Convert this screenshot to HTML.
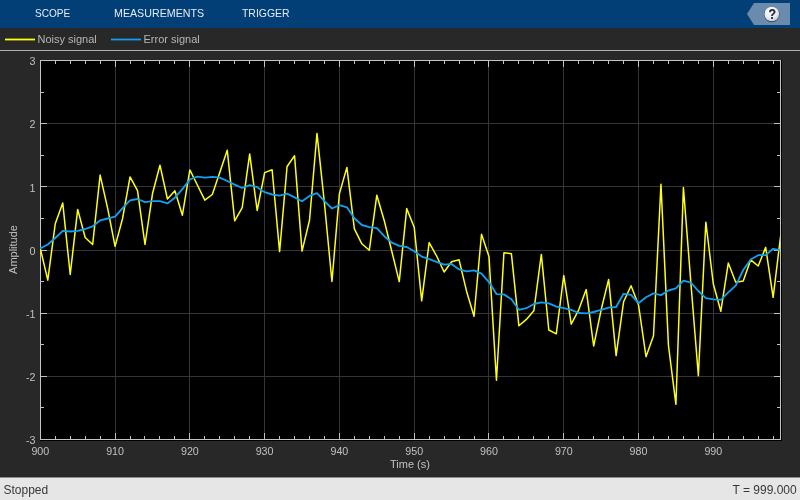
<!DOCTYPE html>
<html><head><meta charset="utf-8"><title>Time Scope</title>
<style>
*{margin:0;padding:0;box-sizing:border-box}
html,body{width:800px;height:500px;overflow:hidden;background:#282828;font-family:"Liberation Sans",Arial,sans-serif}
body>*{will-change:transform}
#bar{position:absolute;left:0;top:0;width:800px;height:28px;background:#023f76}
#bar span{position:absolute;top:7px;font-size:11px;line-height:12px;color:#e6ecf2;transform-origin:0 0}
#help{position:absolute;left:747px;top:3px;width:43px;height:22px}
#legend{position:absolute;left:0;top:28px;width:800px;height:23px;border-bottom:1px solid #afafaf}
#legend i{position:absolute;top:10px;width:30px;height:2px}
#legend span{position:absolute;top:5px;font-size:11px;line-height:12px;color:#b6b6b6}
#plot{position:absolute;left:0;top:0}
#status{position:absolute;left:0;top:477px;width:800px;height:23px;border-top:1px solid #8c8c8c;background:#e6e6e6;color:#383838;font-size:12px}
#status span{position:absolute;top:5px;line-height:14px}
</style></head><body>
<div id="bar">
<span style="left:35.3px;transform:scaleX(0.915)">SCOPE</span>
<span style="left:114.3px;transform:scaleX(0.97)">MEASUREMENTS</span>
<span style="left:241.6px;transform:scaleX(0.948)">TRIGGER</span>
<svg id="help" width="43" height="22" viewBox="747 3 43 22">
<defs><radialGradient id="hg" cx="0.4" cy="0.3" r="0.8"><stop offset="0" stop-color="#ffffff"/><stop offset="0.6" stop-color="#e8eaee"/><stop offset="1" stop-color="#b8bcc4"/></radialGradient></defs>
<polygon points="747,14 754,3 790,3 790,25 754,25" fill="#6a8bad"/>
<circle cx="771.8" cy="14.4" r="7.75" fill="#2c3e55" opacity="0.85"/>
<circle cx="771.8" cy="14" r="7.35" fill="url(#hg)"/>
<text transform="translate(772.2 18.6) scale(0.88 1)" text-anchor="middle" font-family="Liberation Sans, Arial, sans-serif" font-weight="bold" font-size="14" fill="#1c2940" stroke="#1c2940" stroke-width="0.25">?</text>
</svg>
</div>
<div id="legend">
<svg style="position:absolute;left:0;top:0" width="200" height="22"><line x1="5" y1="11.5" x2="35" y2="11.5" stroke="#ffff11" stroke-width="1.8"/><line x1="111" y1="11.5" x2="141" y2="11.5" stroke="#139ef0" stroke-width="1.8"/></svg><span style="left:37.5px">Noisy signal</span>
<span style="left:143.5px">Error signal</span>
</div>
<svg id="plot" width="800" height="500" viewBox="0 0 800 500">
<rect x="40" y="60" width="742" height="381" fill="#000000"/>
<line x1="115.5" y1="61" x2="115.5" y2="439" stroke="#353535" stroke-width="1"/>
<line x1="189.5" y1="61" x2="189.5" y2="439" stroke="#353535" stroke-width="1"/>
<line x1="264.5" y1="61" x2="264.5" y2="439" stroke="#353535" stroke-width="1"/>
<line x1="339.5" y1="61" x2="339.5" y2="439" stroke="#353535" stroke-width="1"/>
<line x1="414.5" y1="61" x2="414.5" y2="439" stroke="#353535" stroke-width="1"/>
<line x1="488.5" y1="61" x2="488.5" y2="439" stroke="#353535" stroke-width="1"/>
<line x1="563.5" y1="61" x2="563.5" y2="439" stroke="#353535" stroke-width="1"/>
<line x1="638.5" y1="61" x2="638.5" y2="439" stroke="#353535" stroke-width="1"/>
<line x1="713.5" y1="61" x2="713.5" y2="439" stroke="#353535" stroke-width="1"/>
<line x1="41" y1="376.5" x2="780" y2="376.5" stroke="#353535" stroke-width="1"/>
<line x1="41" y1="313.5" x2="780" y2="313.5" stroke="#353535" stroke-width="1"/>
<line x1="41" y1="250.5" x2="780" y2="250.5" stroke="#353535" stroke-width="1"/>
<line x1="41" y1="186.5" x2="780" y2="186.5" stroke="#353535" stroke-width="1"/>
<line x1="41" y1="123.5" x2="780" y2="123.5" stroke="#353535" stroke-width="1"/>
<path d="M55.5 439V436M55.5 61V64M70.5 439V436M70.5 61V64M85.5 439V436M85.5 61V64M100.5 439V436M100.5 61V64M115.5 439V433M115.5 61V67M130.5 439V436M130.5 61V64M144.5 439V436M144.5 61V64M159.5 439V436M159.5 61V64M174.5 439V436M174.5 61V64M189.5 439V433M189.5 61V67M204.5 439V436M204.5 61V64M219.5 439V436M219.5 61V64M234.5 439V436M234.5 61V64M249.5 439V436M249.5 61V64M264.5 439V433M264.5 61V67M279.5 439V436M279.5 61V64M294.5 439V436M294.5 61V64M309.5 439V436M309.5 61V64M324.5 439V436M324.5 61V64M339.5 439V433M339.5 61V67M354.5 439V436M354.5 61V64M369.5 439V436M369.5 61V64M384.5 439V436M384.5 61V64M399.5 439V436M399.5 61V64M414.5 439V433M414.5 61V67M429.5 439V436M429.5 61V64M444.5 439V436M444.5 61V64M459.5 439V436M459.5 61V64M474.5 439V436M474.5 61V64M488.5 439V433M488.5 61V67M503.5 439V436M503.5 61V64M518.5 439V436M518.5 61V64M533.5 439V436M533.5 61V64M548.5 439V436M548.5 61V64M563.5 439V433M563.5 61V67M578.5 439V436M578.5 61V64M593.5 439V436M593.5 61V64M608.5 439V436M608.5 61V64M623.5 439V436M623.5 61V64M638.5 439V433M638.5 61V67M653.5 439V436M653.5 61V64M668.5 439V436M668.5 61V64M683.5 439V436M683.5 61V64M698.5 439V436M698.5 61V64M713.5 439V433M713.5 61V67M728.5 439V436M728.5 61V64M743.5 439V436M743.5 61V64M758.5 439V436M758.5 61V64M773.5 439V436M773.5 61V64M41 407.5H44M780 407.5H777M41 376.5H47M780 376.5H774M41 344.5H44M780 344.5H777M41 313.5H47M780 313.5H774M41 281.5H44M780 281.5H777M41 250.5H47M780 250.5H774M41 218.5H44M780 218.5H777M41 186.5H47M780 186.5H774M41 155.5H44M780 155.5H777M41 123.5H47M780 123.5H774M41 92.5H44M780 92.5H777" stroke="#c0c0c0" stroke-width="1" fill="none"/>
<rect x="40.5" y="60.5" width="740" height="379" fill="none" stroke="#c4c4c4" stroke-width="1"/>
<clipPath id="c"><rect x="40" y="60" width="740" height="380"/></clipPath>
<g clip-path="url(#c)" fill="none" stroke-linejoin="round" stroke-linecap="round">
<polyline points="40.30,248.40 47.78,280.20 55.26,223.70 62.73,202.90 70.21,274.50 77.69,209.40 85.17,237.50 92.65,244.50 100.12,175.10 107.60,208.10 115.08,246.40 122.56,218.50 130.04,176.90 137.51,190.70 144.99,244.50 152.47,193.80 159.95,165.20 167.43,199.00 174.90,190.70 182.38,215.20 189.86,169.90 197.34,185.00 204.82,200.10 212.29,194.50 219.77,172.60 227.25,150.20 234.73,220.80 242.21,207.70 249.68,153.90 257.16,210.50 264.64,172.60 272.12,169.80 279.60,251.60 287.07,166.50 294.55,155.80 302.03,251.10 309.51,220.30 316.99,133.40 324.46,203.50 331.94,281.50 339.42,193.60 346.90,167.40 354.38,228.80 361.85,243.80 369.33,250.20 376.81,195.20 384.29,220.80 391.77,251.20 399.24,281.60 406.72,208.60 414.20,227.20 421.68,300.80 429.16,242.60 436.63,256.00 444.11,272.00 451.59,261.80 459.07,259.80 466.55,291.20 474.02,316.20 481.50,234.20 488.98,256.50 496.46,380.20 503.94,252.80 511.41,253.80 518.89,325.80 526.37,319.40 533.85,310.80 541.33,254.40 548.80,330.00 556.28,333.80 563.76,275.60 571.24,324.20 578.72,309.80 586.19,289.60 593.67,346.00 601.15,309.80 608.63,279.40 616.11,355.60 623.58,301.80 631.06,285.80 638.54,305.00 646.02,356.70 653.50,335.70 660.97,184.20 668.45,345.50 675.93,404.30 683.41,187.60 690.89,283.00 698.36,375.70 705.84,222.20 713.32,284.00 720.80,311.30 728.28,263.10 735.75,282.30 743.23,281.00 750.71,259.80 758.19,266.00 765.67,247.40 773.14,297.30 780.62,236.00" stroke="#ffff11" stroke-width="1.5"/>
<polyline points="40.30,248.40 47.78,244.50 55.26,238.00 62.73,230.80 70.21,231.50 77.69,230.80 85.17,229.00 92.65,226.30 100.12,220.40 107.60,218.50 115.08,216.70 122.56,208.10 130.04,200.30 137.51,199.00 144.99,202.10 152.47,201.10 159.95,201.10 167.43,203.40 174.90,197.70 182.38,189.10 189.86,179.50 197.34,176.60 204.82,177.70 212.29,176.80 219.77,177.70 227.25,181.00 234.73,184.70 242.21,188.00 249.68,185.20 257.16,187.20 264.64,192.20 272.12,194.50 279.60,195.60 287.07,193.60 294.55,197.30 302.03,201.20 309.51,195.90 316.99,193.10 324.46,201.20 331.94,208.50 339.42,205.20 346.90,207.30 354.38,218.20 361.85,225.00 369.33,227.20 376.81,228.20 384.29,236.20 391.77,242.60 399.24,245.80 406.72,247.00 414.20,251.20 421.68,256.60 429.16,259.20 436.63,261.80 444.11,264.60 451.59,264.00 459.07,269.40 466.55,271.40 474.02,270.40 481.50,273.60 488.98,282.10 496.46,294.10 503.94,294.40 511.41,299.20 518.89,309.80 526.37,308.20 533.85,304.00 541.33,302.40 548.80,303.40 556.28,306.60 563.76,308.20 571.24,309.80 578.72,313.00 586.19,313.30 593.67,312.00 601.15,309.80 608.63,307.60 616.11,307.00 623.58,293.80 631.06,294.80 638.54,303.20 646.02,297.20 653.50,293.40 660.97,295.10 668.45,290.50 675.93,288.40 683.41,280.60 690.89,282.60 698.36,291.00 705.84,298.10 713.32,299.30 720.80,299.80 728.28,292.40 735.75,285.60 743.23,270.00 750.71,259.50 758.19,255.20 765.67,255.10 773.14,248.80 780.62,250.20" stroke="#139ef0" stroke-width="1.85"/>
</g>
<g fill="#c0c0c0" font-family="Liberation Sans, Arial, sans-serif" font-size="10.7"><text x="40.3" y="455" text-anchor="middle">900</text><text x="115.1" y="455" text-anchor="middle">910</text><text x="189.9" y="455" text-anchor="middle">920</text><text x="264.6" y="455" text-anchor="middle">930</text><text x="339.4" y="455" text-anchor="middle">940</text><text x="414.2" y="455" text-anchor="middle">950</text><text x="489.0" y="455" text-anchor="middle">960</text><text x="563.8" y="455" text-anchor="middle">970</text><text x="638.5" y="455" text-anchor="middle">980</text><text x="713.3" y="455" text-anchor="middle">990</text><text x="35.5" y="65.2" text-anchor="end">3</text><text x="35.5" y="128.3" text-anchor="end">2</text><text x="35.5" y="191.5" text-anchor="end">1</text><text x="35.5" y="254.7" text-anchor="end">0</text><text x="35.5" y="317.8" text-anchor="end">-1</text><text x="35.5" y="381.0" text-anchor="end">-2</text><text x="35.5" y="444.2" text-anchor="end">-3</text></g>
<text x="410" y="468" text-anchor="middle" fill="#c0c0c0" font-family="Liberation Sans, Arial, sans-serif" font-size="11">Time (s)</text>
<text transform="translate(16.8 249.5) rotate(-90)" text-anchor="middle" fill="#c0c0c0" font-family="Liberation Sans, Arial, sans-serif" font-size="11">Amplitude</text>
</svg>
<div id="status"><span style="left:3.5px">Stopped</span><span style="right:3.3px">T = 999.000</span></div>
</body></html>
